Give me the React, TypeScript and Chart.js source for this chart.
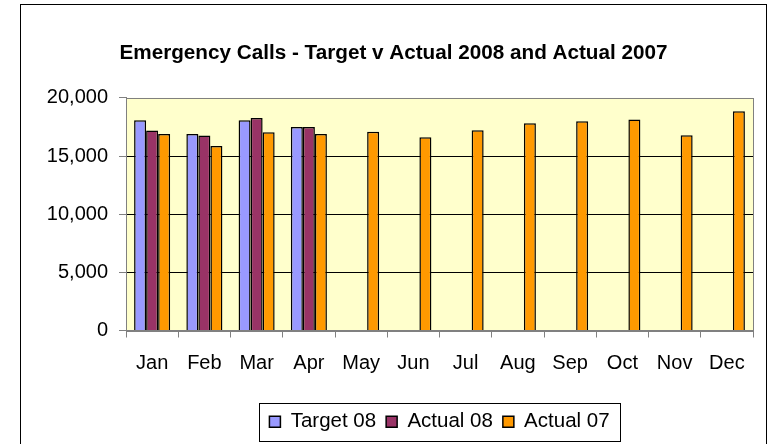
import React, { useEffect, useRef } from "react";
import { Chart, registerables } from "chart.js";

Chart.register(...registerables);

const months = ["Jan", "Feb", "Mar", "Apr", "May", "Jun", "Jul", "Aug", "Sep", "Oct", "Nov", "Dec"];
const target08: (number | null)[] = [18070, 16900, 18070, 17500, null, null, null, null, null, null, null, null];
const actual08: (number | null)[] = [17190, 16770, 18270, 17500, null, null, null, null, null, null, null, null];
const actual07: number[] = [16900, 15860, 17050, 16900, 17080, 16620, 17220, 17820, 17990, 18130, 16790, 18840];
const yTicks = [0, 5000, 10000, 15000, 20000];

const FONT = "Arial, 'Liberation Sans', sans-serif";

const framePlugin = {
  id: "frameAndPlot",
  beforeDraw(chart: any) {
    const { ctx, chartArea } = chart;
    ctx.save();
    ctx.fillStyle = "#ffffff";
    ctx.fillRect(0, 0, chart.width, chart.height);
    ctx.strokeStyle = "#000000";
    ctx.lineWidth = 1;
    ctx.strokeRect(20.5, 4.5, 746, 460);
    ctx.fillStyle = "#FFFFCC";
    ctx.fillRect(chartArea.left, chartArea.top, chartArea.right - chartArea.left, chartArea.bottom - chartArea.top);
    ctx.restore();
  },
  afterDatasetsDraw(chart: any) {
    const { ctx, chartArea } = chart;
    ctx.save();
    ctx.strokeStyle = "#808080";
    ctx.lineWidth = 1;
    ctx.strokeRect(Math.round(chartArea.left) + 0.5, Math.round(chartArea.top) + 0.5,
      Math.round(chartArea.right - chartArea.left), Math.round(chartArea.bottom - chartArea.top));
    ctx.restore();
  },
  afterDraw(chart: any) {
    const legend = chart.legend;
    if (!legend || !legend.legendHitBoxes || !legend.legendHitBoxes.length) return;
    const hb = legend.legendHitBoxes;
    const first = hb[0];
    const last = hb[hb.length - 1];
    const cy = first.top + first.height / 2;
    const left = Math.round(first.left - 10) + 0.5;
    const right = Math.round(last.left + last.width + 10) + 0.5;
    const top = Math.round(cy - 19) + 0.5;
    const bottom = Math.round(cy + 19) + 0.5;
    const { ctx } = chart;
    ctx.save();
    ctx.strokeStyle = "#000000";
    ctx.lineWidth = 1;
    ctx.strokeRect(left, top, right - left, bottom - top);
    ctx.restore();
  },
};

export default function App() {
  const ref = useRef<HTMLCanvasElement | null>(null);
  useEffect(() => {
    if (!ref.current) return;
    const chart = new Chart(ref.current, {
      type: "bar",
      data: {
        labels: months,
        datasets: [
          { label: "Target 08", data: target08, backgroundColor: "#9999FF", borderColor: "#000000", borderWidth: 1.5 },
          { label: "Actual 08", data: actual08, backgroundColor: "#993366", borderColor: "#000000", borderWidth: 1.5 },
          { label: "Actual 07", data: actual07, backgroundColor: "#FF9900", borderColor: "#000000", borderWidth: 1.5 },
        ],
      },
      options: {
        responsive: false,
        animation: false,
        datasets: { bar: { categoryPercentage: 0.69, barPercentage: 1.0 } },
        layout: { padding: { left: 34, right: 14, top: 10, bottom: 2 } },
        plugins: {
          title: {
            display: true,
            text: "Emergency Calls - Target v Actual 2008 and Actual 2007",
            color: "#000000",
            font: { family: FONT, size: 20.7, weight: "bold" },
            padding: { top: 31, bottom: 32 },
          },
          legend: {
            display: true,
            position: "bottom",
            fullSize: false,
            labels: {
              color: "#000000",
              font: { family: FONT, size: 20.5 },
              boxWidth: 11,
              boxHeight: 11,
              padding: 10,
            },
          },
          tooltip: { enabled: false },
        },
        scales: {
          x: {
            grid: { display: true, drawOnChartArea: false, drawTicks: true, tickLength: 7, tickColor: "#808080", offset: true },
            border: { color: "#808080", width: 1 },
            ticks: { color: "#000000", font: { family: FONT, size: 20 }, padding: 14, maxRotation: 0, autoSkip: false },
            afterFit(scale: any) {
              scale.height = 71;
            },
          },
          y: {
            min: 0,
            max: 20000,
            afterBuildTicks(scale: any) {
              scale.ticks = yTicks.map((v) => ({ value: v }));
            },
            grid: {
              color: (c: any) => (c.tick && (c.tick.value === 0 || c.tick.value === 20000) ? "rgba(0,0,0,0)" : "#000000"),
              tickLength: 7,
              tickColor: "#808080",
            },
            border: { color: "#808080", width: 1 },
            ticks: {
              color: "#000000",
              font: { family: FONT, size: 20 },
              padding: 11,
              callback: (v: any) => Number(v).toLocaleString("en-US"),
            },
            afterFit(scale: any) {
              scale.width = 92;
            },
          },
        },
      },
      plugins: [framePlugin],
    });
    return () => chart.destroy();
  }, []);
  return (
    <div style={{ position: "fixed", left: 0, top: 0, width: 767, height: 444 }}>
      <canvas ref={ref} width={767} height={444} style={{ display: "block" }} />
    </div>
  );
}
